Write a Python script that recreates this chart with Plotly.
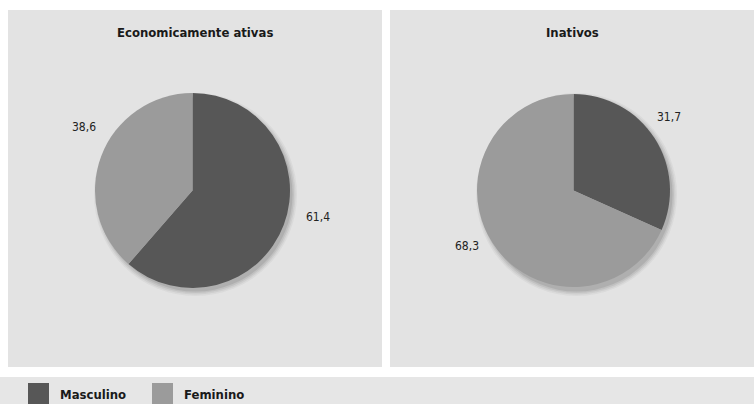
import plotly.graph_objects as go

W, H = 754, 404

categories = ["Masculino", "Feminino"]
panel_titles = ["Economicamente ativas", "Inativos"]
ativas = [61.4, 38.6]
inativos = [31.7, 68.3]
colors = ["#575757", "#9b9b9b"]

FAMILY = "DejaVu Sans Condensed, Liberation Sans Narrow, Liberation Sans, sans-serif"


def px(x):
    return x / W


def py(y):
    return 1 - y / H


def fmt(v):
    return f"{v:.1f}".replace(".", ",")


fig = go.Figure()

# panel geometry in pixels
panels = [(8, 10, 382, 367), (390, 10, 754, 367)]
pie_boxes = [(95, 93, 290, 288), (477, 93, 670, 288)]
series = [ativas, inativos]

shapes = []
for (x0, y0, x1, y1) in panels:
    shapes.append(dict(type="rect", xref="paper", yref="paper",
                       x0=px(x0), x1=px(x1), y0=py(y1), y1=py(y0),
                       fillcolor="#e3e3e3", line_width=0, layer="below"))
# legend band
shapes.append(dict(type="rect", xref="paper", yref="paper",
                   x0=0, x1=1, y0=0, y1=py(377),
                   fillcolor="#e6e6e6", line_width=0, layer="below"))

# soft drop shadow under each pie
for (x0, y0, x1, y1) in pie_boxes:
    for i, a in enumerate([0.05, 0.07, 0.09, 0.12]):
        g = 4 - i
        shapes.append(dict(type="circle", xref="paper", yref="paper",
                           x0=px(x0 + 3 - g + i * 0.5), x1=px(x1 + 3 + g - i * 0.5),
                           y0=py(y1 + 4 + g - i * 0.5), y1=py(y0 + 4 - g + i * 0.5),
                           fillcolor=f"rgba(60,60,60,{a})", line_width=0, layer="below"))

for vals, (x0, y0, x1, y1) in zip(series, pie_boxes):
    fig.add_trace(go.Pie(
        labels=categories, values=vals, sort=False, direction="clockwise",
        rotation=0, marker=dict(colors=colors, line=dict(width=0)),
        textinfo="none", hoverinfo="label+value", showlegend=False,
        domain=dict(x=[px(x0), px(x1)], y=[py(y1), py(y0)]),
    ))

annotations = []
title_font = dict(family=FAMILY, size=13, color="#1a1a1a", weight="bold")
for t, (x0, y0, x1, y1) in zip(panel_titles, panels):
    annotations.append(dict(text=t, xref="paper", yref="paper",
                            x=px((x0 + x1) / 2), y=py(33), showarrow=False,
                            font=title_font, xanchor="center", yanchor="middle"))

# value labels placed beside their slices
label_pos = [[(318, 217), (84, 127)], [(669, 117), (467, 246)]]
val_font = dict(family=FAMILY, size=12, color="#222222")
for vals, poss in zip(series, label_pos):
    for v, (x, y) in zip(vals, poss):
        annotations.append(dict(text=fmt(v), xref="paper", yref="paper",
                                x=px(x), y=py(y), showarrow=False, font=val_font,
                                xanchor="center", yanchor="middle"))

# legend
leg_x = [28, 152]
for cat, col, lx in zip(categories, colors, leg_x):
    shapes.append(dict(type="rect", xref="paper", yref="paper",
                       x0=px(lx), x1=px(lx + 21), y0=py(404), y1=py(383),
                       fillcolor=col, line_width=0))
    annotations.append(dict(text=cat, xref="paper", yref="paper",
                            x=px(lx + 30), y=py(394), showarrow=False,
                            font=title_font, xanchor="left", yanchor="middle"))

fig.update_layout(
    width=W, height=H, margin=dict(l=0, r=0, t=0, b=0),
    paper_bgcolor="white", plot_bgcolor="white",
    shapes=shapes, annotations=annotations,
)

fig.write_html("out.html")
